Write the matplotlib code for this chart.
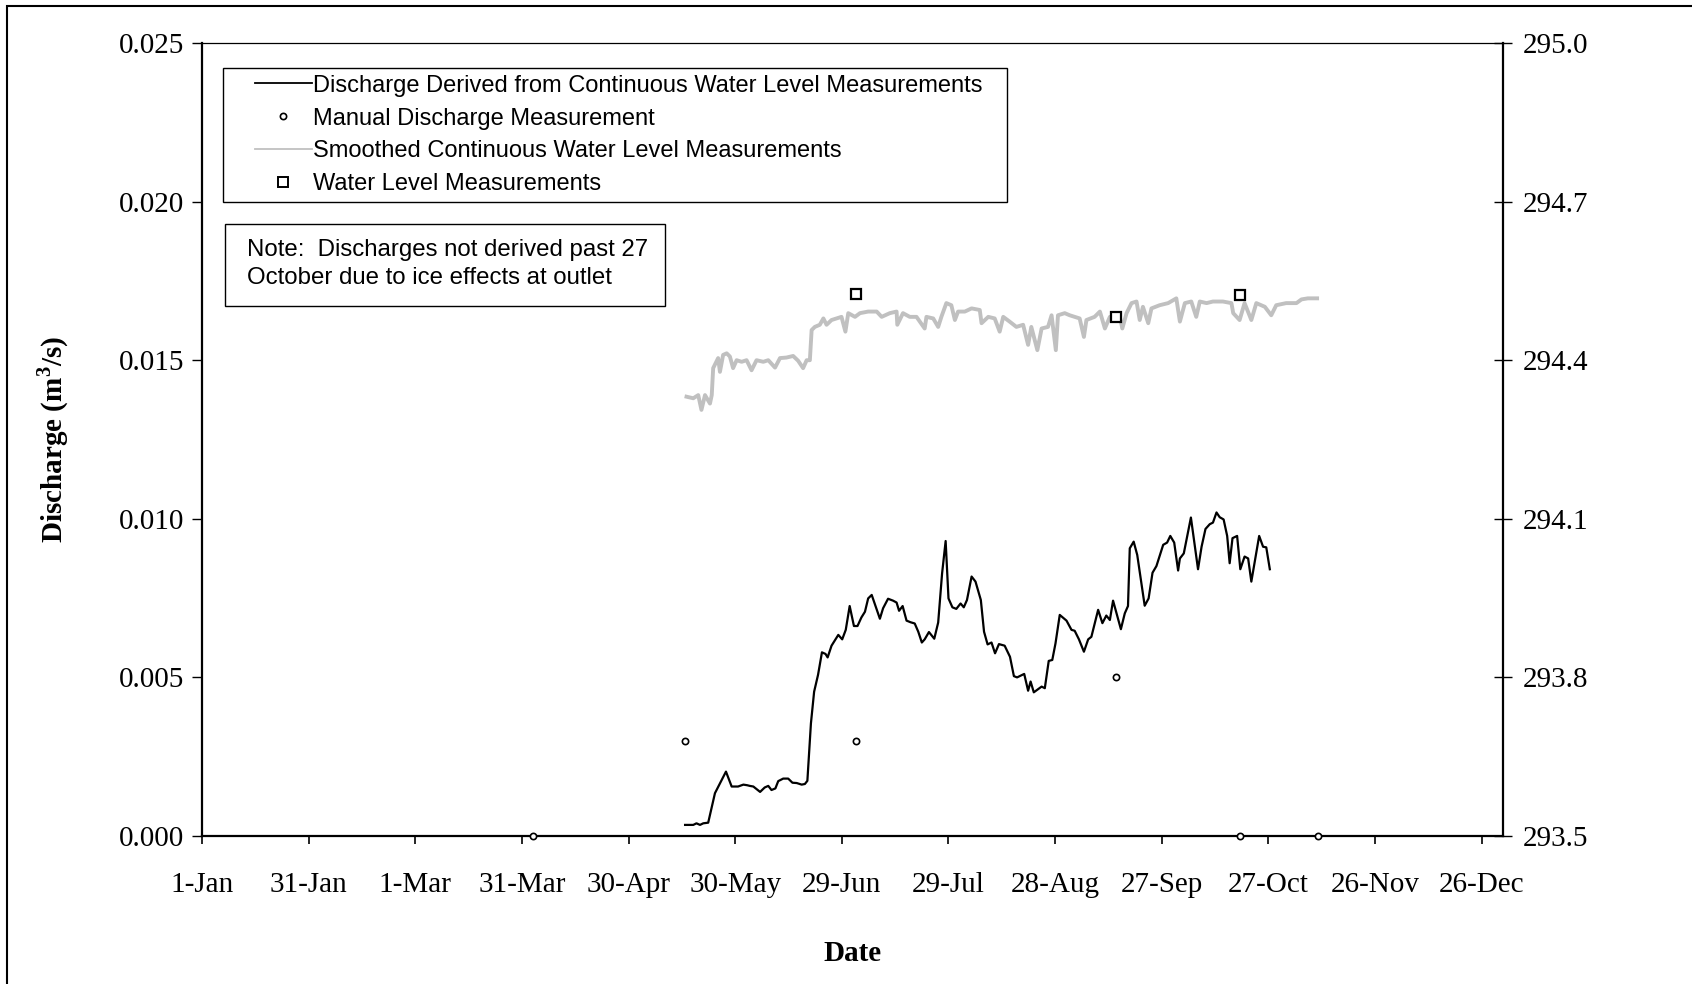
import matplotlib
matplotlib.use("Agg")
import matplotlib.pyplot as plt
from matplotlib.lines import Line2D
from matplotlib.patches import Rectangle
from matplotlib.ticker import FormatStrFormatter

plt.rcParams['font.family'] = ['Liberation Serif', 'DejaVu Serif']
plt.rcParams['mathtext.fontset'] = 'custom'
plt.rcParams['mathtext.rm'] = 'Liberation Serif'
plt.rcParams['mathtext.bf'] = 'Liberation Serif:bold'

# x values are days after 1 January
tick_days = [0, 30, 60, 90, 120, 150, 180, 210, 240, 270, 300, 330, 360]
tick_labels = ['1-Jan', '31-Jan', '1-Mar', '31-Mar', '30-Apr', '30-May', '29-Jun',
               '29-Jul', '28-Aug', '27-Sep', '27-Oct', '26-Nov', '26-Dec']

q_days = [135.9, 138.2, 139.1, 140.1, 141.0, 142.4, 144.3, 147.4, 149.0, 150.8,
          152.3, 153.4, 154.1, 155.1, 157.0, 158.3, 159.3, 160.2, 161.3, 162.1,
          163.5, 164.9, 166.1, 167.3, 168.7, 169.6, 170.3, 171.3, 172.2, 173.3,
          174.4, 175.4, 176.0, 177.1, 179.0, 180.1, 181.1, 182.2, 183.4, 184.4,
          185.5, 186.5, 187.4, 188.4, 190.7, 191.6, 193.0, 194.4, 195.4, 196.1,
          197.1, 198.2, 199.3, 200.5, 201.5, 202.5, 203.3, 204.5, 206.0, 207.1,
          208.2, 209.2, 210.0, 211.1, 212.2, 213.4, 214.3, 215.2, 216.5, 217.6,
          219.1, 220.0, 221.0, 222.1, 223.1, 224.2, 225.8, 227.3, 228.4, 229.3,
          231.3, 232.4, 233.1, 234.0, 236.2, 237.1, 238.2, 239.2, 240.1, 241.3,
          243.2, 244.6, 245.5, 246.7, 248.1, 249.3, 250.2, 252.1, 253.3, 254.4,
          255.4, 256.3, 258.5, 259.6, 260.5, 261.0, 262.1, 263.1, 265.2, 266.3,
          267.4, 268.5, 270.4, 271.5, 272.4, 273.5, 274.6, 275.1, 276.2, 278.2,
          280.2, 281.2, 282.3, 283.5, 284.4, 285.4, 286.3, 287.4, 288.4, 289.1,
          289.9, 291.2, 292.1, 293.3, 294.3, 295.2, 297.4, 298.5, 299.4, 300.4]
q_vals = [0.00035, 0.00035, 0.00040, 0.00035, 0.00040, 0.00042, 0.00135, 0.00203, 0.00156, 0.00156,
          0.00162, 0.00160, 0.00158, 0.00156, 0.00139, 0.00153, 0.00158, 0.00145, 0.00150, 0.00173,
          0.00181, 0.00181, 0.00168, 0.00167, 0.00162, 0.00164, 0.00174, 0.00355, 0.00455, 0.00508,
          0.00579, 0.00574, 0.00563, 0.00600, 0.00634, 0.00620, 0.00650, 0.00725, 0.00662, 0.00662,
          0.00689, 0.00707, 0.00749, 0.00760, 0.00685, 0.00718, 0.00748, 0.00742, 0.00736, 0.00710,
          0.00725, 0.00679, 0.00674, 0.00670, 0.00644, 0.00610, 0.00620, 0.00643, 0.00622, 0.00673,
          0.00828, 0.00930, 0.00749, 0.00721, 0.00716, 0.00733, 0.00721, 0.00744, 0.00818, 0.00802,
          0.00744, 0.00644, 0.00604, 0.00610, 0.00576, 0.00605, 0.00600, 0.00565, 0.00504, 0.00500,
          0.00511, 0.00458, 0.00487, 0.00453, 0.00471, 0.00466, 0.00552, 0.00555, 0.00607, 0.00697,
          0.00679, 0.00650, 0.00647, 0.00620, 0.00581, 0.00620, 0.00628, 0.00713, 0.00671, 0.00695,
          0.00681, 0.00742, 0.00652, 0.00702, 0.00725, 0.00907, 0.00928, 0.00886, 0.00726, 0.00749,
          0.00830, 0.00851, 0.00918, 0.00925, 0.00946, 0.00925, 0.00837, 0.00875, 0.00891, 0.01004,
          0.00841, 0.00912, 0.00968, 0.00983, 0.00988, 0.01020, 0.01005, 0.00998, 0.00946, 0.00860,
          0.00939, 0.00946, 0.00841, 0.00881, 0.00875, 0.00802, 0.00946, 0.00912, 0.00910, 0.00841]

manual_days = [93, 136, 184, 257, 292, 314]
manual_q = [0.0, 0.003, 0.003, 0.005, 0.0, 0.0]

wl_days = [136.3, 138.2, 139.6, 140.5, 141.5, 142.9, 143.4, 143.8, 145.2, 145.7,
           146.6, 147.6, 148.5, 149.4, 150.4, 151.8, 153.2, 154.6, 156.0, 157.9,
           159.3, 161.2, 162.6, 164.4, 166.3, 167.7, 169.1, 170.1, 171.0, 171.5,
           172.4, 173.8, 174.8, 175.7, 177.1, 178.5, 179.9, 181.0, 181.8, 183.7,
           185.1, 187.4, 189.8, 191.2, 193.5, 195.4, 195.6, 197.2, 199.1, 201.0,
           203.3, 203.8, 205.7, 207.1, 208.0, 209.4, 210.8, 211.8, 212.7, 214.6,
           216.5, 218.8, 219.3, 221.2, 223.0, 224.4, 225.4, 227.2, 229.1, 231.0,
           232.4, 233.3, 235.0, 236.2, 238.0, 239.0, 240.2, 240.8, 242.7, 244.1,
           246.9, 248.1, 248.8, 251.1, 252.6, 254.0, 255.4, 258.2, 258.9, 260.1,
           261.5, 262.9, 263.8, 264.7, 266.2, 267.1, 269.4, 271.8, 274.1, 275.1,
           276.5, 278.3, 279.7, 280.7, 282.6, 284.4, 287.2, 289.6, 290.1, 291.9,
           293.3, 295.2, 296.6, 299.0, 300.8, 302.2, 305.0, 307.9, 309.3, 311.1,
           313.7]
wl_vals = [294.331, 294.328, 294.334, 294.306, 294.334, 294.318, 294.334, 294.385, 294.404, 294.378,
           294.410, 294.413, 294.407, 294.385, 294.400, 294.397, 294.400, 294.381, 294.400, 294.397,
           294.400, 294.386, 294.404, 294.405, 294.408, 294.399, 294.385, 294.400, 294.400, 294.457,
           294.463, 294.467, 294.479, 294.467, 294.476, 294.479, 294.482, 294.454, 294.489, 294.482,
           294.489, 294.492, 294.492, 294.482, 294.489, 294.492, 294.467, 294.489, 294.482, 294.482,
           294.460, 294.482, 294.479, 294.463, 294.482, 294.508, 294.504, 294.476, 294.492, 294.492,
           294.498, 294.495, 294.470, 294.482, 294.479, 294.454, 294.482, 294.473, 294.463, 294.467,
           294.429, 294.463, 294.419, 294.460, 294.463, 294.485, 294.419, 294.485, 294.489, 294.485,
           294.479, 294.444, 294.476, 294.482, 294.492, 294.460, 294.482, 294.482, 294.460, 294.489,
           294.508, 294.511, 294.476, 294.501, 294.470, 294.498, 294.504, 294.508, 294.517, 294.473,
           294.508, 294.511, 294.482, 294.511, 294.508, 294.511, 294.511, 294.508, 294.489, 294.476,
           294.508, 294.476, 294.508, 294.501, 294.485, 294.504, 294.508, 294.508, 294.515, 294.517,
           294.517]

wl_meas_days = [184, 257, 292]
wl_meas_vals = [294.526, 294.481, 294.523]

q_ticks = [0.000, 0.005, 0.010, 0.015, 0.020, 0.025]
wl_ticks = [293.5, 293.8, 294.1, 294.4, 294.7, 295.0]

fig = plt.figure(figsize=(16.92, 9.84), dpi=100)
ax = fig.add_axes([0.1194, 0.1504, 0.7689, 0.8059])
ax2 = ax.twinx()

ax.plot(q_days, q_vals, color='black', lw=1.6, zorder=3)
ax.plot(manual_days, manual_q, 'o', ms=4.5, mfc='white', mec='black', mew=1.2,
        clip_on=False, zorder=4)
ax2.plot(wl_days, wl_vals, color='#c0c0c0', lw=2.8, zorder=2)
ax2.plot(wl_meas_days, wl_meas_vals, 's', ms=7, mfc='white', mec='black', mew=1.6,
         zorder=4)

ax.set_xlim(0, 366)
ax.set_ylim(0, 0.025)
ax2.set_ylim(293.5, 295.0)
ax.set_xticks(tick_days)
ax.set_xticklabels(tick_labels)
ax.set_yticks(q_ticks)
ax.yaxis.set_major_formatter(FormatStrFormatter('%.3f'))
ax2.set_yticks(wl_ticks)
ax2.yaxis.set_major_formatter(FormatStrFormatter('%.1f'))

ax.tick_params(axis='x', direction='out', length=6, width=1.2, labelsize=21, pad=20)
ax.tick_params(axis='y', direction='out', length=7, width=1.0, labelsize=21, pad=6)
ax2.tick_params(axis='y', direction='inout', length=13, width=1.0, labelsize=21, pad=7.5)

for s in ['left', 'bottom']:
    ax.spines[s].set_linewidth(1.6)
ax.spines['top'].set_linewidth(0.9)
ax.spines['right'].set_visible(False)
for s in ['left', 'bottom', 'top']:
    ax2.spines[s].set_visible(False)
ax2.spines['right'].set_linewidth(1.6)

ax.set_xlabel('Date', fontsize=21, fontweight='bold', labelpad=30)
ax.set_ylabel(r'Discharge (m$^{\mathbf{3}}$/s)', fontsize=21, fontweight='bold', labelpad=34)

sans = {'family': 'Liberation Sans', 'size': 17}
handles = [Line2D([], [], color='black', lw=1.3),
           Line2D([], [], ls='none', marker='o', ms=4.5, mfc='white', mec='black', mew=1.2),
           Line2D([], [], color='#c0c0c0', lw=1.3),
           Line2D([], [], ls='none', marker='s', ms=6.5, mfc='white', mec='black', mew=1.4)]
labels = ['Discharge Derived from Continuous Water Level Measurements',
          'Manual Discharge Measurement',
          'Smoothed Continuous Water Level Measurements',
          'Water Level Measurements']
ax2.legend(handles, labels, loc='center left', bbox_to_anchor=(0.0407, 0.884),
           frameon=False, prop=sans, borderpad=0, borderaxespad=0,
           handlelength=2.4, handletextpad=0.05, labelspacing=0.46)
ax2.add_patch(Rectangle((0.016, 0.7995), 0.603, 0.1685, transform=ax2.transAxes,
                        fill=False, ec='black', lw=1.0, zorder=5))

note = {'family': 'Liberation Sans', 'size': 17.3}
ax2.add_patch(Rectangle((0.0177, 0.668), 0.338, 0.1034, transform=ax2.transAxes,
                        fill=False, ec='black', lw=1.0, zorder=5))
ax2.text(0.0346, 0.7213, 'Note:  Discharges not derived past 27\nOctober due to ice effects at outlet',
         transform=ax2.transAxes, ha='left', va='center', fontdict=note,
         linespacing=1.3)

fig.patches.append(Rectangle((7 / 1692, -0.05), 1.1, 1.05 - 6 / 984, transform=fig.transFigure,
                             fill=False, ec='black', lw=1.5))

fig.savefig('out.png', dpi=100)
